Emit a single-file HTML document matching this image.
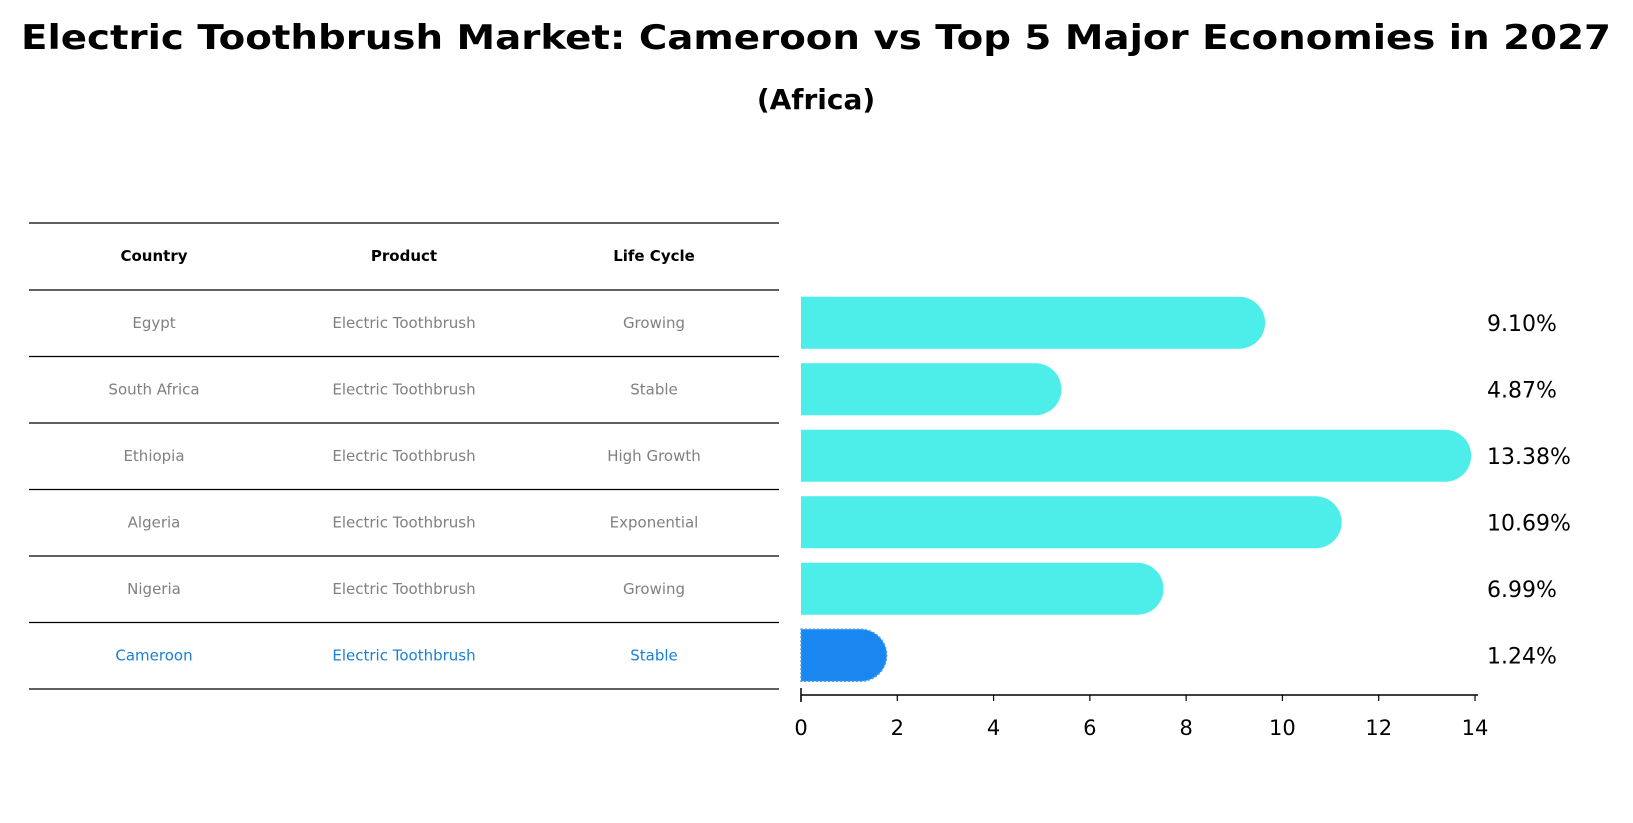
<!DOCTYPE html>
<html><head><meta charset="utf-8"><style>
body{margin:0;background:#fff;}
svg{display:block;font-family:"DejaVu Sans","Liberation Sans",sans-serif;}
</style></head><body>
<svg id="chart" width="1633" height="823" viewBox="0 0 1633 823" xmlns="http://www.w3.org/2000/svg">
<text x="816" y="49" text-anchor="middle" font-size="34" font-weight="bold" textLength="1590" lengthAdjust="spacingAndGlyphs">Electric Toothbrush Market: Cameroon vs Top 5 Major Economies in 2027</text>
<text x="816" y="109" text-anchor="middle" font-size="28" font-weight="bold">(Africa)</text>
<g id="table"></g>
<g id="bars"></g>
<g id="axis"></g>
</svg>
<script>
const countries=["Egypt","South Africa","Ethiopia","Algeria","Nigeria","Cameroon"];
const products=["Electric Toothbrush","Electric Toothbrush","Electric Toothbrush","Electric Toothbrush","Electric Toothbrush","Electric Toothbrush"];
const lifeCycles=["Growing","Stable","High Growth","Exponential","Growing","Stable"];
const values=[9.10,4.87,13.38,10.69,6.99,1.24];
const xTicks=[0,2,4,6,8,10,12,14];

const NS="http://www.w3.org/2000/svg";
function mk(tag,attrs,parent){const e=document.createElementNS(NS,tag);for(const k in attrs)e.setAttribute(k,attrs[k]);parent.appendChild(e);return e;}
const x0=801,x1=1475,xMax=14;
const xs=v=>x0+(v/xMax)*(x1-x0);
const rowTop=290,rowH=66.5;
const ys=i=>rowTop+rowH*i+rowH/2-0.5;
const table=document.getElementById('table');
const bars=document.getElementById('bars');
const axis=document.getElementById('axis');
const colX=[154,404,654];
// table lines
for(let i=0;i<=countries.length+1;i++){
  const y=i===0?223:rowTop+rowH*(i-1);
  const l=mk('line',{x1:29,x2:779,y1:y,y2:y,stroke:'#000','stroke-width':1.2},table);
  
  
}
["Country","Product","Life Cycle"].forEach((h,j)=>{
  const t=mk('text',{x:colX[j],y:261,'text-anchor':'middle','font-size':15,'font-weight':'bold'},table);
  t.textContent=h;
  
  
});
countries.forEach((c,i)=>{
  const col=c==="Cameroon"?'#1a7fd4':'#808080';
  [c,products[i],lifeCycles[i]].forEach((v,j)=>{
    const t=mk('text',{x:colX[j],y:ys(i)+5,'text-anchor':'middle','font-size':15,fill:col},table);
    t.textContent=v;
    
    
  });
  const hl=c==="Cameroon";
  const fill=hl?'#1a86f0':'#4deeea';
  const h=52,r=26,cy=ys(i);
  const xe=xs(values[i]);
  const p=mk('path',{d:`M${x0},${cy-h/2} H${xe} A${r},${r} 0 0 1 ${xe},${cy+h/2} H${x0} Z`,fill:fill},bars);
  if(hl){p.setAttribute('stroke','#4aa0f0');p.setAttribute('stroke-dasharray','2,2');p.setAttribute('stroke-width','1.5');}
  
  
  const t=mk('text',{x:1487,y:cy+8,'font-size':22},bars);
  t.textContent=values[i].toFixed(2)+'%';
  
  
});
const al=mk('line',{x1:x0,x2:x1+3,y1:695,y2:695,stroke:'#000','stroke-width':1.5},axis);


const sl=mk('line',{x1:x0,x2:x0,y1:688,y2:702,stroke:'#000','stroke-width':1.5},axis);


xTicks.forEach(v=>{
  const tk=mk('line',{x1:xs(v),x2:xs(v),y1:695,y2:701,stroke:'#000','stroke-width':1.2},axis);
  
  
  const t=mk('text',{x:xs(v),y:735,'text-anchor':'middle','font-size':21},axis);
  t.textContent=v;
  
  
});
</script>
</body></html>
